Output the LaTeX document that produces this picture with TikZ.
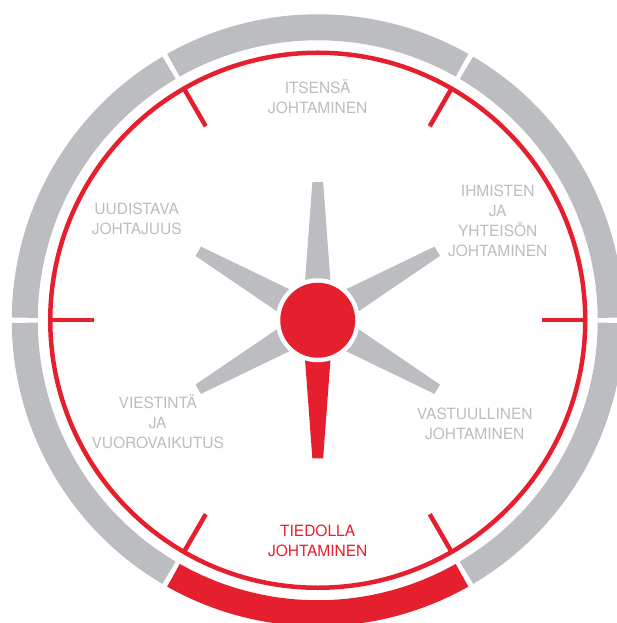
\documentclass[tikz,border=0pt]{standalone}
\usepackage{fontspec}
\setmainfont{TeX Gyre Heros}
\definecolor{compassred}{RGB}{230,31,46}
\definecolor{compassgray}{RGB}{187,189,192}
\tikzstyle{ring}=[line width=26pt, draw=compassgray]
\tikzstyle{active ring}=[ring, draw=compassred]
\tikzstyle{rim}=[line width=4.5pt, draw=compassred]
\tikzstyle{spoke}=[fill=compassgray]
\tikzstyle{active spoke}=[fill=compassred]
\tikzstyle{hub}=[circle, fill=compassred, minimum size=75pt, inner sep=0pt]
\tikzstyle{area label}=[align=center, inner sep=0pt, text=compassgray, font=\fontsize{15.5}{20}\selectfont]
\tikzstyle{active label}=[area label, text=compassred]

\begin{document}
\begin{tikzpicture}[x=1pt, y=1pt]
      \path[use as bounding box, clip] (-317.75,-302.75) rectangle (299.25,320.25);

      % outer ring, one segment per area
      \draw[ring] (0.5:293) arc[start angle=0.5, end angle=59.5, radius=293];
      \draw[ring] (60.5:293) arc[start angle=60.5, end angle=119.5, radius=293];
      \draw[ring] (120.5:293) arc[start angle=120.5, end angle=179.5, radius=293];
      \draw[ring] (180.5:293) arc[start angle=180.5, end angle=239.5, radius=293];
      \draw[active ring] (240.5:293) arc[start angle=240.5, end angle=299.5, radius=293];
      \draw[ring] (300.5:293) arc[start angle=300.5, end angle=359.5, radius=293];

      % inner rim with ticks
      \draw[rim] (0,0) circle (267.5);
      \draw[rim] (0:267.5) -- (0:224);
      \draw[rim] (60:267.5) -- (60:224);
      \draw[rim] (120:267.5) -- (120:224);
      \draw[rim] (180:267.5) -- (180:224);
      \draw[rim] (240:267.5) -- (240:224);
      \draw[rim] (300:267.5) -- (300:224);

      % compass star
      \fill[spoke, rotate=90] (30,-13.4) -- (138,-5.4) -- (138,5.4) -- (30,13.4) -- cycle;
      \fill[spoke, rotate=30] (30,-13.4) -- (138,-5.4) -- (138,5.4) -- (30,13.4) -- cycle;
      \fill[spoke, rotate=150] (30,-13.4) -- (138,-5.4) -- (138,5.4) -- (30,13.4) -- cycle;
      \fill[spoke, rotate=210] (30,-13.4) -- (138,-5.4) -- (138,5.4) -- (30,13.4) -- cycle;
      \fill[spoke, rotate=-30] (30,-13.4) -- (138,-5.4) -- (138,5.4) -- (30,13.4) -- cycle;
      \fill[active spoke, rotate=-90] (30,-13.4) -- (138,-5.4) -- (138,5.4) -- (30,13.4) -- cycle;
      \fill[white] (0,0) circle (42);
      \node[hub] (hub) at (0,0) {};

      \node[area label] (itse) at (0, 224) {ITSENSÄ\\JOHTAMINEN};
      \node[area label] (ihmiset) at (180, 99) {IHMISTEN\\JA\\YHTEISÖN\\JOHTAMINEN};
      \node[area label] (vastuu) at (157, -104) {VASTUULLINEN\\JOHTAMINEN};
      \node[active label] (tieto) at (0, -221) {TIEDOLLA\\JOHTAMINEN};
      \node[area label] (viestinta) at (-160, -101) {VIESTINTÄ\\JA\\VUOROVAIKUTUS};
      \node[area label] (uudistus) at (-181, 101) {UUDISTAVA\\JOHTAJUUS};
    \end{tikzpicture}
\end{document}
